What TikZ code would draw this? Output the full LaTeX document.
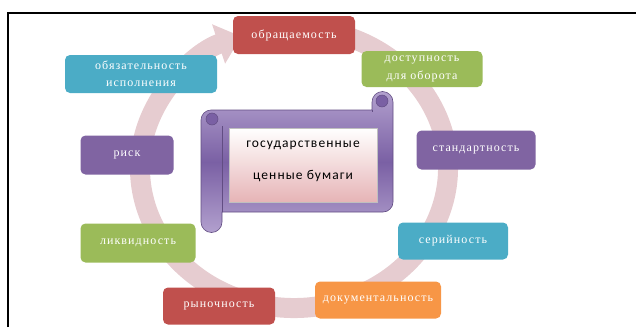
\documentclass[tikz,border=0pt]{standalone}
\usepackage{fontspec}
\setmainfont{Liberation Serif}
\newfontfamily\cellfont[LetterSpace=9]{Liberation Serif}
\newfontfamily\titlefont[LetterSpace=8]{Carlito}
\usepackage{tikz}
\usetikzlibrary{arrows.meta}
\usepackage{xcolor}

\definecolor{redcell}{HTML}{C0504D}
\definecolor{greencell}{HTML}{9BBB59}
\definecolor{purplecell}{HTML}{8064A2}
\definecolor{tealcell}{HTML}{4BACC6}
\definecolor{orangecell}{HTML}{F79646}
\definecolor{ringpink}{RGB}{230,204,208}
\definecolor{scrolllight}{RGB}{178,160,206}
\definecolor{scrolldark}{RGB}{122,96,164}
\definecolor{innerpink}{RGB}{230,180,182}

\begin{document}
\begin{tikzpicture}[x=1pt,y=-1pt,
cell/.style={rounded corners=5pt, minimum height=38pt, inner sep=0pt,
  align=center, text=white, font=\cellfont\fontsize{12}{17.5}\selectfont}]

\useasboundingbox (0,0) rectangle (636,327);

% frame
\draw[black, line width=1.8pt] (8,327) -- (8,13) -- (636,13);

% ring with arrow
\draw[ringpink, line width=20pt, -{Triangle[width=40pt,length=24pt]}]
  (294,168) ++(-68:154 and 140)
  arc[start angle=-68, end angle=250, x radius=154, y radius=140];

% scroll
{
\shade[top color=scrolllight, bottom color=scrolllight, middle color=scrolldark,
  draw=scrolldark!80!black, line width=0.6pt]
  (201,222) -- (201,120) arc[start angle=180, end angle=270, radius=10]
  -- (372,110) -- (372,102) arc[start angle=180, end angle=360, radius=10.5]
  -- (393,202) arc[start angle=0, end angle=90, radius=10]
  -- (222,212) -- (222,222) arc[start angle=0, end angle=180, radius=10.5]
  -- cycle;
\draw[scrolldark!80!black, line width=0.6pt] (222,212) -- (222,126);
\draw[scrolldark!80!black, line width=0.6pt] (372,110) -- (372,112);
\fill[scrolldark, draw=scrolldark!80!black, line width=0.5pt] (212,119) circle [radius=6];
\fill[scrolldark, draw=scrolldark!80!black, line width=0.5pt] (382,101) circle [radius=6];
}

\shade[top color=white, bottom color=innerpink, draw=gray!50, line width=0.6pt]
  (229,128) rectangle (377,202);
\node[font=\titlefont\fontsize{13.5}{32}\selectfont, align=center, text=black]
  (title) at (303,161) {государственные\\ценные бумаги};

% cells
\node[cell, fill=redcell, minimum width=122pt] (obr) at (294,35) {обращаемость};
\node[cell, fill=greencell, minimum width=121pt, minimum height=36pt] (dost) at (422,69) {доступность\\для оборота};
\node[cell, fill=purplecell, minimum width=119pt, minimum height=39pt] (stand) at (476,150) {стандартность};
\node[cell, fill=tealcell, minimum width=110pt, minimum height=37pt] (ser) at (453,241) {серийность};
\node[cell, fill=orangecell, minimum width=126pt, minimum height=37pt] (doc) at (378,300) {документальность};
\node[cell, fill=redcell, minimum width=112pt, minimum height=37pt] (ryn) at (219,306) {рыночность};
\node[cell, fill=greencell, minimum width=115pt, minimum height=39pt] (likv) at (138,243) {ликвидность};
\node[cell, fill=purplecell, minimum width=93pt, minimum height=39pt] (risk) at (127,155) {риск};
\node[cell, fill=tealcell, minimum width=152pt] (obyaz) at (141,74) {обязательность\\исполнения};

\end{tikzpicture}
\end{document}
